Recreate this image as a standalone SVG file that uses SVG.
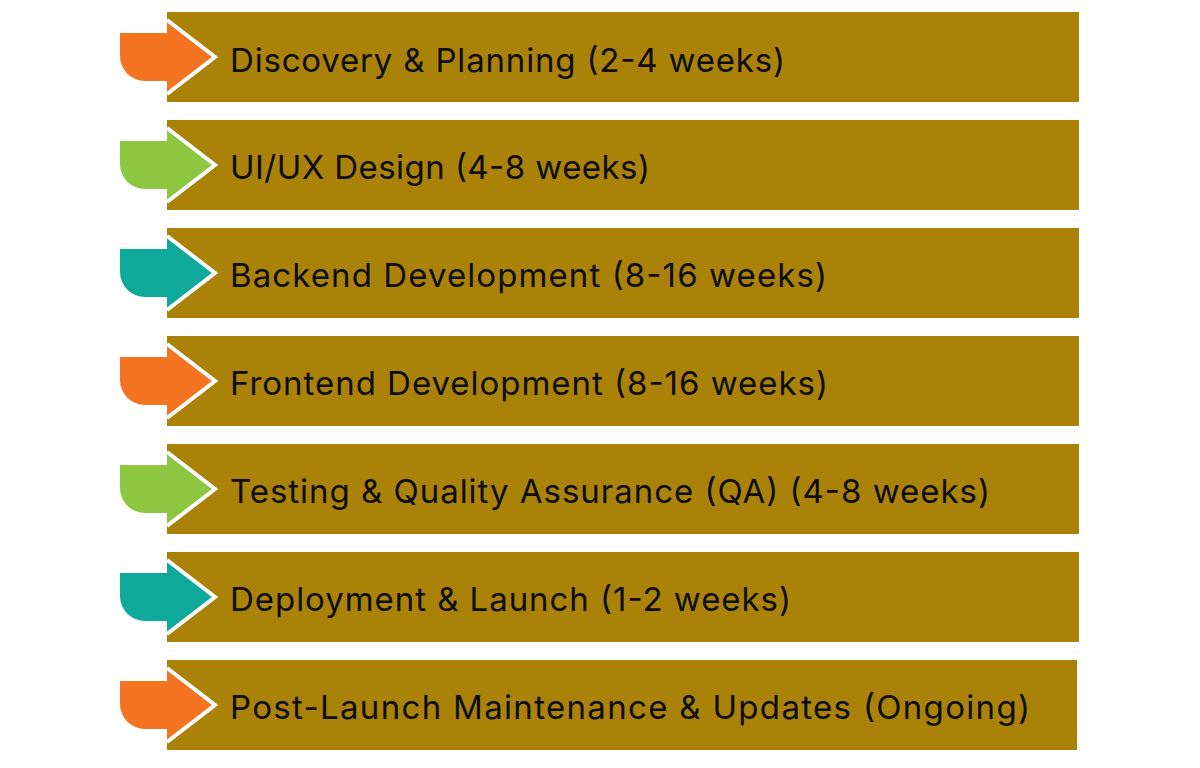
<svg xmlns="http://www.w3.org/2000/svg" width="1200" height="768" viewBox="0 0 1200 768">
<style>
.box{fill:#AA8208}
.lbl{font-family:Inter,"Noto Sans","Liberation Sans",sans-serif;font-size:33px;fill:#0d0d0d}
.edge{fill:none;stroke:#fff;stroke-width:4;stroke-linejoin:miter}
.o{fill:#F47422}.g{fill:#8DC641}.t{fill:#0FA99B}
</style>
<defs>
<g id="arrow">
<path d="M167,-24 H120 V-1 A25,25 0 0 0 145,24 H167 Z"/>
<polygon points="167,-36 214,0 167,36"/>
<polyline class="edge" points="167,-37 215,0 167,37"/>
</g>
</defs>
<rect width="1200" height="768" fill="#fff"/>
<g id="step1"><rect class="box" x="167" y="12" width="912" height="90"/><use href="#arrow" class="o" y="57"/><text class="lbl" x="230" y="72" textLength="555" lengthAdjust="spacing">Discovery &amp; Planning (2-4 weeks)</text></g>
<g id="step2"><rect class="box" x="167" y="120" width="912" height="90"/><use href="#arrow" class="g" y="165"/><text class="lbl" x="230" y="179" textLength="420" lengthAdjust="spacing">UI/UX Design (4-8 weeks)</text></g>
<g id="step3"><rect class="box" x="167" y="228" width="912" height="90"/><use href="#arrow" class="t" y="273"/><text class="lbl" x="230" y="287" textLength="597" lengthAdjust="spacing">Backend Development (8-16 weeks)</text></g>
<g id="step4"><rect class="box" x="167" y="336" width="912" height="90"/><use href="#arrow" class="o" y="381"/><text class="lbl" x="230" y="395" textLength="598" lengthAdjust="spacing">Frontend Development (8-16 weeks)</text></g>
<g id="step5"><rect class="box" x="167" y="444" width="912" height="90"/><use href="#arrow" class="g" y="489"/><text class="lbl" x="230" y="503" textLength="760" lengthAdjust="spacing">Testing &amp; Quality Assurance (QA) (4-8 weeks)</text></g>
<g id="step6"><rect class="box" x="167" y="552" width="912" height="90"/><use href="#arrow" class="t" y="597"/><text class="lbl" x="230" y="611" textLength="561" lengthAdjust="spacing">Deployment &amp; Launch (1-2 weeks)</text></g>
<g id="step7"><rect class="box" x="167" y="660" width="910" height="90"/><use href="#arrow" class="o" y="705"/><text class="lbl" x="230" y="719" textLength="800" lengthAdjust="spacing">Post-Launch Maintenance &amp; Updates (Ongoing)</text></g>
<g id="connectors"></g>
</svg>
